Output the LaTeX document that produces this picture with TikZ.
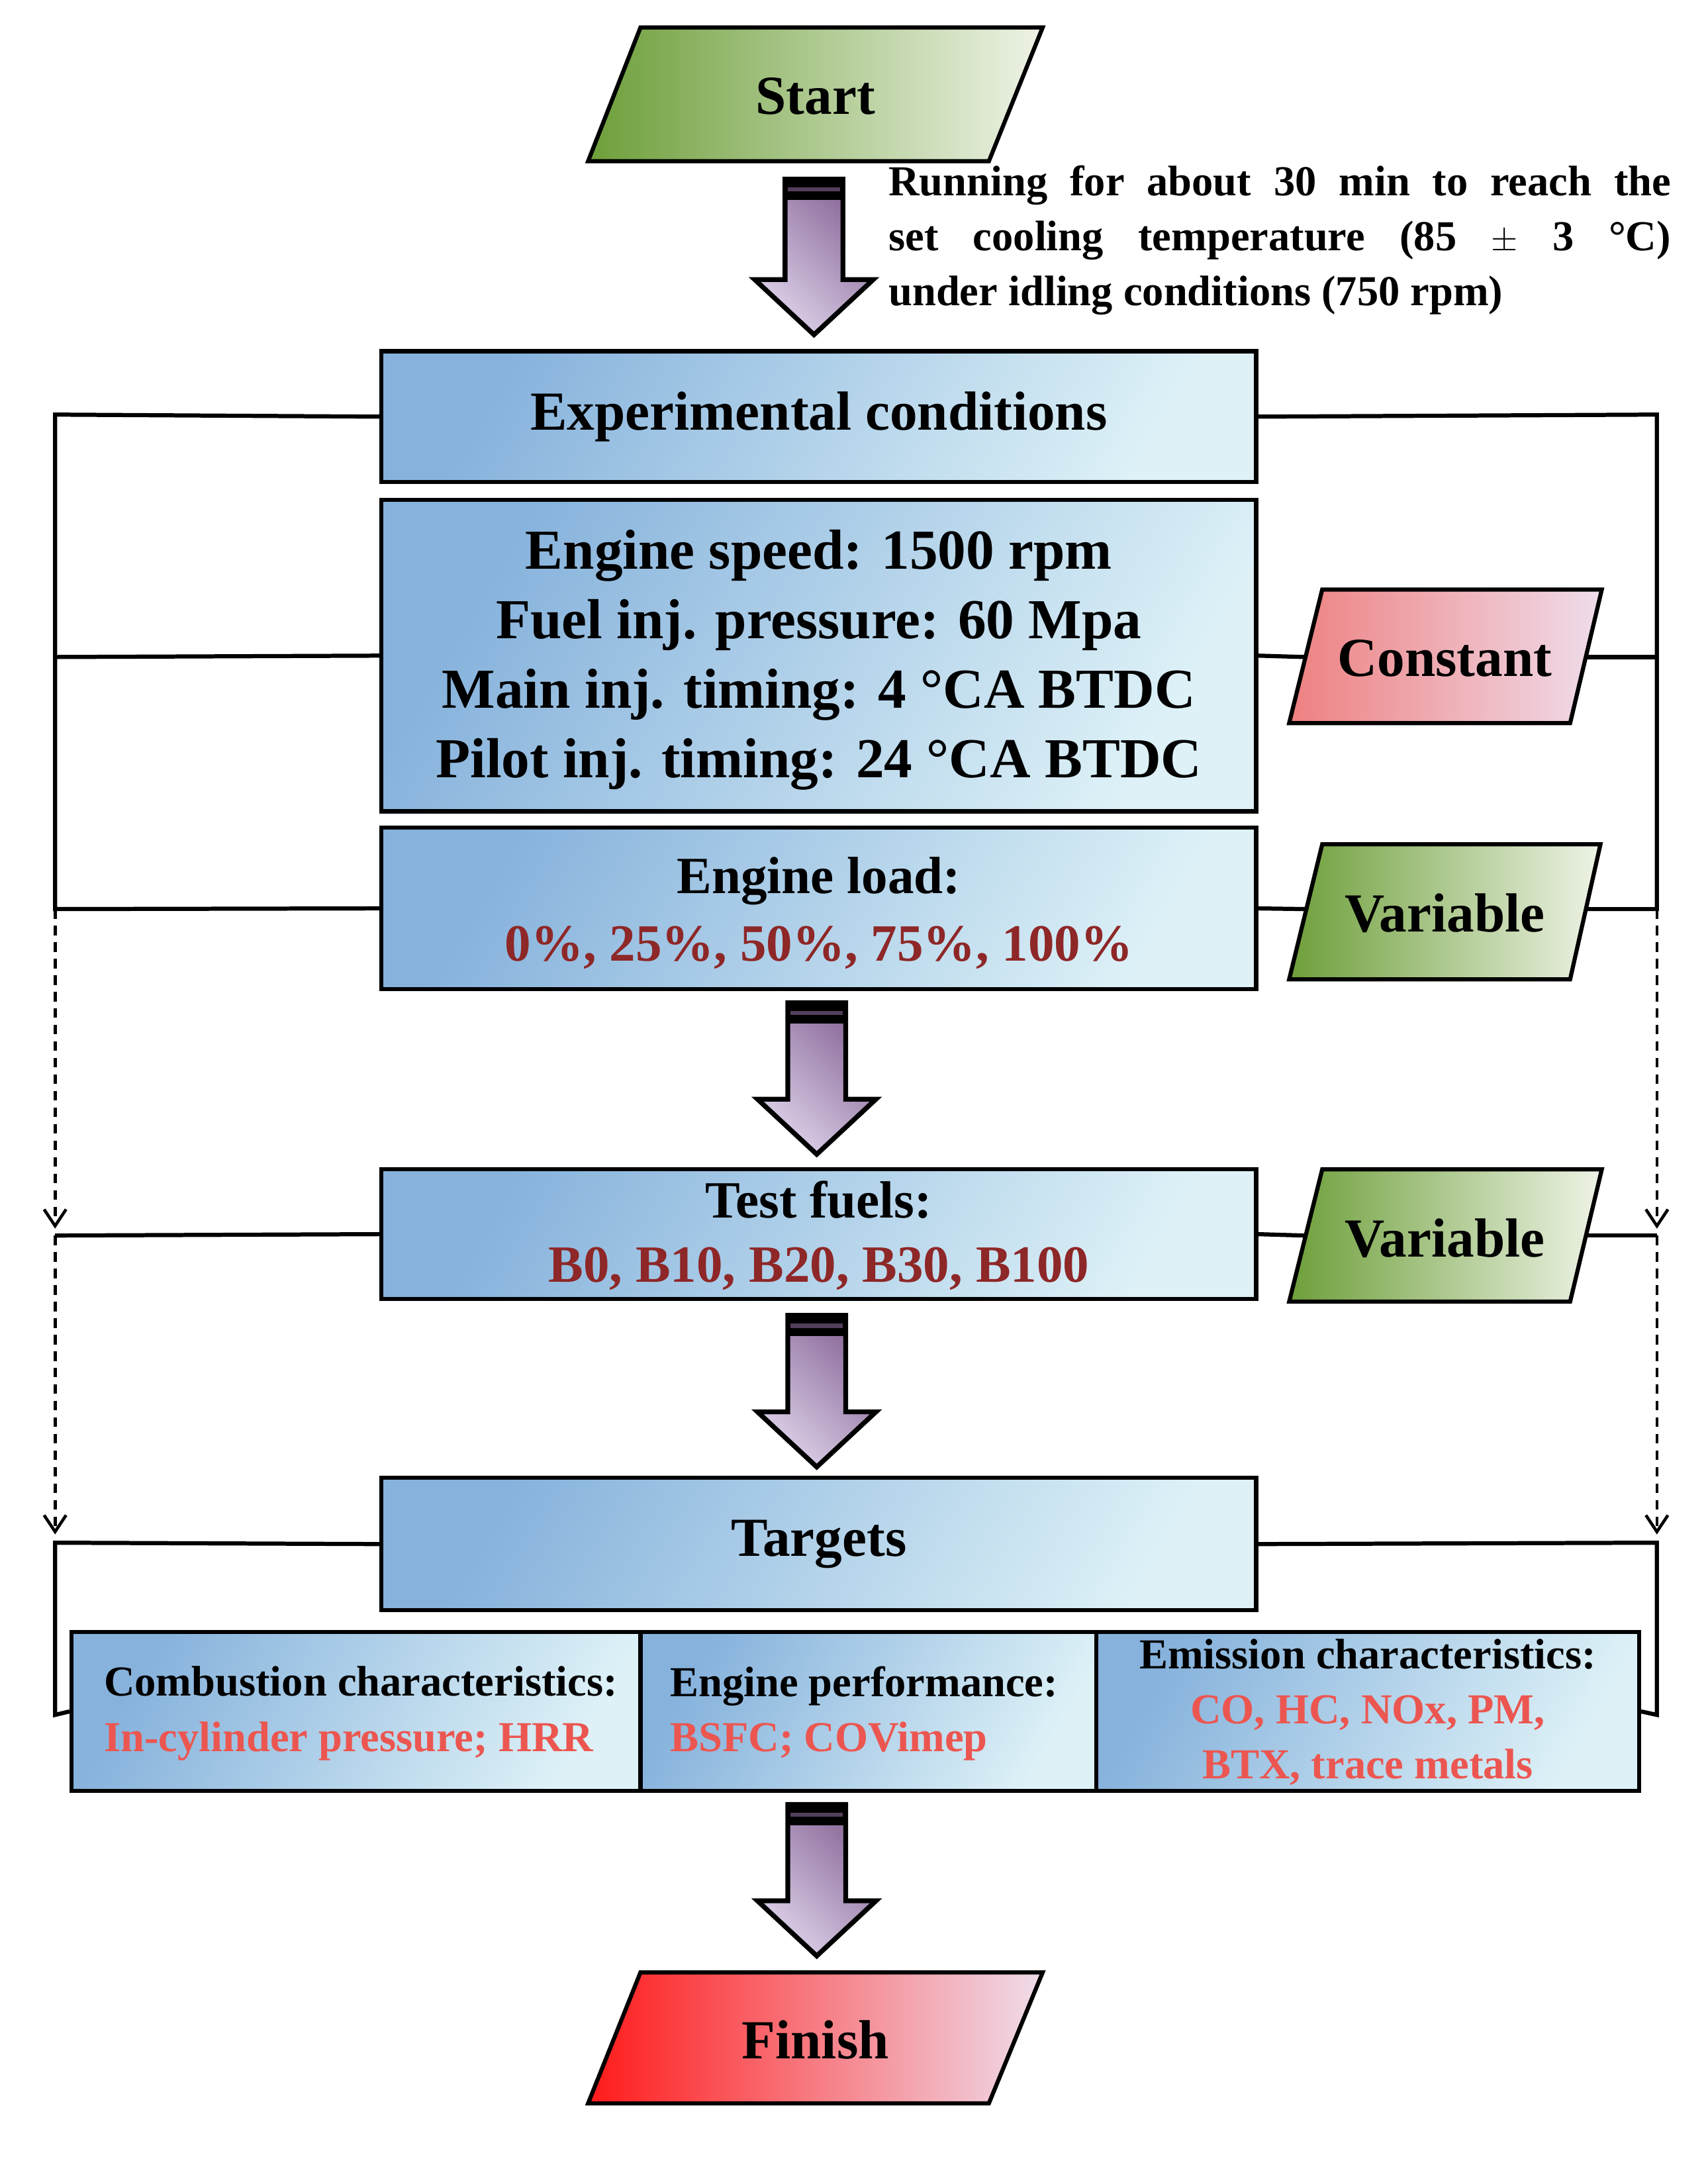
\documentclass[tikz,border=0pt]{standalone}
\usepackage{fontspec}
\setmainfont{Liberation Serif}
\usetikzlibrary{arrows.meta}
\definecolor{bdark}{HTML}{86B2DC}
\definecolor{blight}{HTML}{DDF1F7}
\definecolor{gdark}{HTML}{6E9F3A}
\definecolor{glight}{HTML}{EEF3E6}
\definecolor{rdark}{HTML}{FF1A1A}
\definecolor{rlight}{HTML}{EFDDEB}
\definecolor{pdark}{HTML}{EE8080}
\definecolor{adark}{HTML}{8A6898}
\definecolor{alight}{HTML}{DDD2EA}
\definecolor{dred}{HTML}{8E2727}
\definecolor{lred}{HTML}{EC5650}
\tikzset{
 box/.style={draw=black,line width=3pt,left color=bdark,right color=blight,shading angle=60,inner sep=0pt},
 lbl/.style={font=\bfseries\fontsize{40}{50}\selectfont,align=center},
 sml/.style={font=\bfseries\fontsize{31}{40}\selectfont,align=center},
 ln/.style={line width=3pt},
 dl/.style={line width=2.2pt,dash pattern=on 7pt off 5pt,-{Straight Barb[length=12pt,width=16pt,line width=2.2pt]}},
 para/.style={draw=black,line width=3pt,shading angle=60},
}
\newcommand{\blkarrow}[3]{% x center, top, bottom
 \path[draw=black,line width=3.5pt,left color=adark,right color=alight,shading angle=-45]
 (#1-21,#2) -- (#1+21,#2) -- (#1+21,#3-40) -- (#1+43,#3-40) -- (#1,#3) -- (#1-43,#3-40) -- (#1-21,#3-40) -- cycle;
 \fill[black] (#1-22,#2-1) rectangle (#1+22,#2+15);
 \fill[adark!60!black] (#1-19,#2+6) rectangle (#1+19,#2+9);
}
\begin{document}
\begin{tikzpicture}[x=1pt,y=-1pt]
\useasboundingbox[fill=white] (0,0) rectangle (1240,1566);
% Start
\path[para,left color=gdark,right color=glight] (465,20)--(757,20)--(718,117)--(427,117)--cycle;
\node[lbl] (start) at (592,70) {Start};
\blkarrow{591}{130}{243}
\node[font=\bfseries\fontsize{31}{40}\selectfont,text width=568pt,align=justify,anchor=north west,inner sep=0pt] (run) at (645,120)
 {Running for about 30 min to reach the\linebreak set cooling temperature (85 $\pm$ 3 °C)\linebreak under idling conditions (750 rpm)};
% boxes
\node[box,minimum width=635pt,minimum height=95pt] (exp) at (594.5,302.5) {};
\node[lbl] at (exp) {Experimental conditions};
\node[box,minimum width=635pt,minimum height=226pt] (const) at (594.5,476) {};
\node[lbl,font=\bfseries\fontsize{41}{50.5}\selectfont] at (594.5,479) {Engine speed: 1500 rpm\\Fuel inj. pressure: 60 Mpa\\Main inj. timing: 4 °CA BTDC\\Pilot inj. timing: 24 °CA BTDC};
\node[box,minimum width=635pt,minimum height=117pt] (load) at (594.5,659.5) {};
\node[lbl,font=\bfseries\fontsize{38}{49}\selectfont] at (594.5,663) {Engine load:\\\textcolor{dred}{0\%, 25\%, 50\%, 75\%, 100\%}};
\blkarrow{593}{728}{838}
\node[box,minimum width=635pt,minimum height=94pt] (fuel) at (594.5,896) {};
\node[lbl,font=\bfseries\fontsize{38}{47}\selectfont] at (594.5,897) {Test fuels:\\\textcolor{dred}{B0, B10, B20, B30, B100}};
\blkarrow{593}{955}{1065}
\node[box,minimum width=635pt,minimum height=96pt] (tgt) at (594.5,1121) {};
\node[lbl] at (tgt) {Targets};
\node[box,minimum width=413pt,minimum height=115pt] (c1) at (258.5,1242.5) {};
\node[box,minimum width=331pt,minimum height=115pt] (c2) at (630.5,1242.5) {};
\node[box,minimum width=394pt,minimum height=115pt] (c3) at (993,1242.5) {};
\node[sml,align=left,anchor=west] at (72,1244) {Combustion characteristics:\\\textcolor{lred}{In-cylinder pressure; HRR}};
\node[sml,align=left,anchor=west] at (483,1244) {Engine performance:\\\textcolor{lred}{BSFC; COVimep}};
\node[sml] at (993,1243) {Emission characteristics:\\\textcolor{lred}{CO, HC, NOx, PM,}\\\textcolor{lred}{BTX, trace metals}};
\blkarrow{593}{1310}{1420}
% Finish
\path[para,left color=rdark,right color=rlight] (465,1432)--(757,1432)--(718,1527)--(427,1527)--cycle;
\node[lbl] (fin) at (592,1481) {Finish};
% side parallelograms
\path[para,left color=pdark,right color=rlight] (960,428)--(1163,428)--(1140,525)--(936,525)--cycle;
\node[lbl] (cst) at (1049,478) {Constant};
\path[para,left color=gdark,right color=glight] (960,613)--(1162,613)--(1140,711)--(936,711)--cycle;
\node[lbl] (v1) at (1049,663) {Variable};
\path[para,left color=gdark,right color=glight] (960,849)--(1163,849)--(1140,945)--(936,945)--cycle;
\node[lbl] (v2) at (1049,899) {Variable};
% side connectors
\coordinate (L1) at (40,301); \coordinate (L2) at (40,660); \coordinate (L3) at (40,897);
\coordinate (L4) at (40,1120); \coordinate (L5) at (40,1245);
\coordinate (R1) at (1203,301); \coordinate (R2) at (1203,660); \coordinate (R3) at (1203,897);
\coordinate (R4) at (1203,1120); \coordinate (R5) at (1203,1245);
\draw[ln] (exp.west) -- (L1) -- (L2) -- (load.west);
\draw[ln] (40,477) -- (const.west);
\draw[dl] (L2) -- (40,892);
\draw[ln] (L3) -- (fuel.west);
\draw[dl] (L3) -- (40,1114);
\draw[ln] (tgt.west) -- (L4) -- (L5) -- (c1.west);
\draw[ln] (exp.east) -- (R1) -- (R2) -- (1152,660);
\draw[ln] (1151,477) -- (1203,477);
\draw[ln] (const.east) -- (947,477);
\draw[ln] (load.east) -- (948,660);
\draw[dl] (R2) -- (1203,892);
\draw[ln] (fuel.east) -- (947,897);
\draw[ln] (1152,897) -- (R3);
\draw[dl] (R3) -- (1203,1114);
\draw[ln] (tgt.east) -- (R4) -- (R5) -- (c3.east);
\end{tikzpicture}
\end{document}
